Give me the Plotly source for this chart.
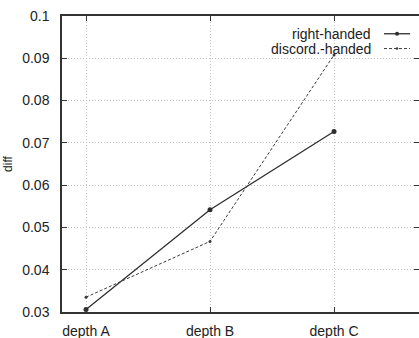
import plotly.graph_objects as go

categories = ["depth A", "depth B", "depth C"]
right_handed = [0.0306, 0.0542, 0.0727]
discord_handed = [0.0335, 0.0467, 0.0908]
y_ticks = [0.03, 0.04, 0.05, 0.06, 0.07, 0.08, 0.09, 0.1]
y_tick_text = ["0.03", "0.04", "0.05", "0.06", "0.07", "0.08", "0.09", "0.1"]
series_names = ["right-handed", "discord.-handed"]

FONT = "Liberation Sans, Arial, sans-serif"
AX = "#333333"
GRID = "#c4c4c4"

fig = go.Figure()
fig.add_trace(go.Scatter(
    x=categories, y=right_handed, name=series_names[0], mode="lines+markers",
    line=dict(color="#2e2e2e", width=1.3),
    marker=dict(symbol="circle", size=5, color="#2e2e2e"), showlegend=False))
fig.add_trace(go.Scatter(
    x=categories, y=discord_handed, name=series_names[1], mode="lines+markers",
    line=dict(color="#3c3c3c", width=1, dash="3px,2px"),
    marker=dict(symbol="circle", size=3, color="#3c3c3c"), showlegend=False))
# invisible trace carrying the right-hand tick axis
fig.add_trace(go.Scatter(
    x=categories, y=right_handed, yaxis="y2", mode="lines",
    line=dict(width=0), opacity=0, hoverinfo="skip", showlegend=False))

fig.update_layout(
    width=419, height=338,
    margin=dict(l=62, r=0, t=16, b=26),
    paper_bgcolor="white", plot_bgcolor="white",
    font=dict(family=FONT, size=13, color="#222222"),
    xaxis=dict(
        type="category", range=[-0.1935, 2.685],
        showline=True, linecolor=AX, linewidth=1.5, mirror="ticks",
        ticks="inside", ticklen=5, tickcolor=AX,
        showgrid=True, gridcolor=GRID, gridwidth=1, griddash="1px,2px",
        zeroline=False, ticklabelstandoff=5,
        tickfont=dict(size=14, family=FONT, color="#222222"),
    ),
    yaxis=dict(
        range=[0.03, 0.1], tickvals=y_ticks, ticktext=y_tick_text,
        showline=True, linecolor=AX, linewidth=1.5, mirror=False,
        ticks="inside", ticklen=5, tickcolor=AX,
        showgrid=True, gridcolor=GRID, gridwidth=1, griddash="1px,2px",
        zeroline=False, ticklabelstandoff=8,
        tickfont=dict(size=14, family=FONT, color="#222222"),
        title=dict(text="diff", font=dict(size=12, family=FONT, color="#222222"), standoff=7),
    ),
    yaxis2=dict(
        overlaying="y", side="right", range=[0.03, 0.1], tickvals=y_ticks,
        showticklabels=False, showline=False, showgrid=False, zeroline=False,
        ticks="inside", ticklen=5, tickcolor=AX,
    ),
)

# legend (gnuplot style: text right-aligned, sample to the right)
leg_y = [0.94, 0.89]
styles = [dict(color="#2e2e2e", width=1.3, dash="solid"), dict(color="#3c3c3c", width=1, dash="3px,2px")]
for name, yy, st, msz in zip(series_names, leg_y, styles, [4, 2.5]):
    fig.add_annotation(xref="paper", yref="paper", x=0.87, y=yy, text=name,
                       showarrow=False, xanchor="right", yanchor="middle",
                       font=dict(size=14, family=FONT, color="#222222"))
    fig.add_shape(type="line", xref="paper", yref="paper", x0=0.902, x1=0.975, y0=yy, y1=yy,
                  line=st)
    fig.add_shape(type="circle", xref="paper", yref="paper",
                  x0=0.9385 - msz / 357 / 2, x1=0.9385 + msz / 357 / 2,
                  y0=yy - msz / 296 / 2, y1=yy + msz / 296 / 2,
                  fillcolor=st["color"], line=dict(width=0))

fig.write_html("out.html")
